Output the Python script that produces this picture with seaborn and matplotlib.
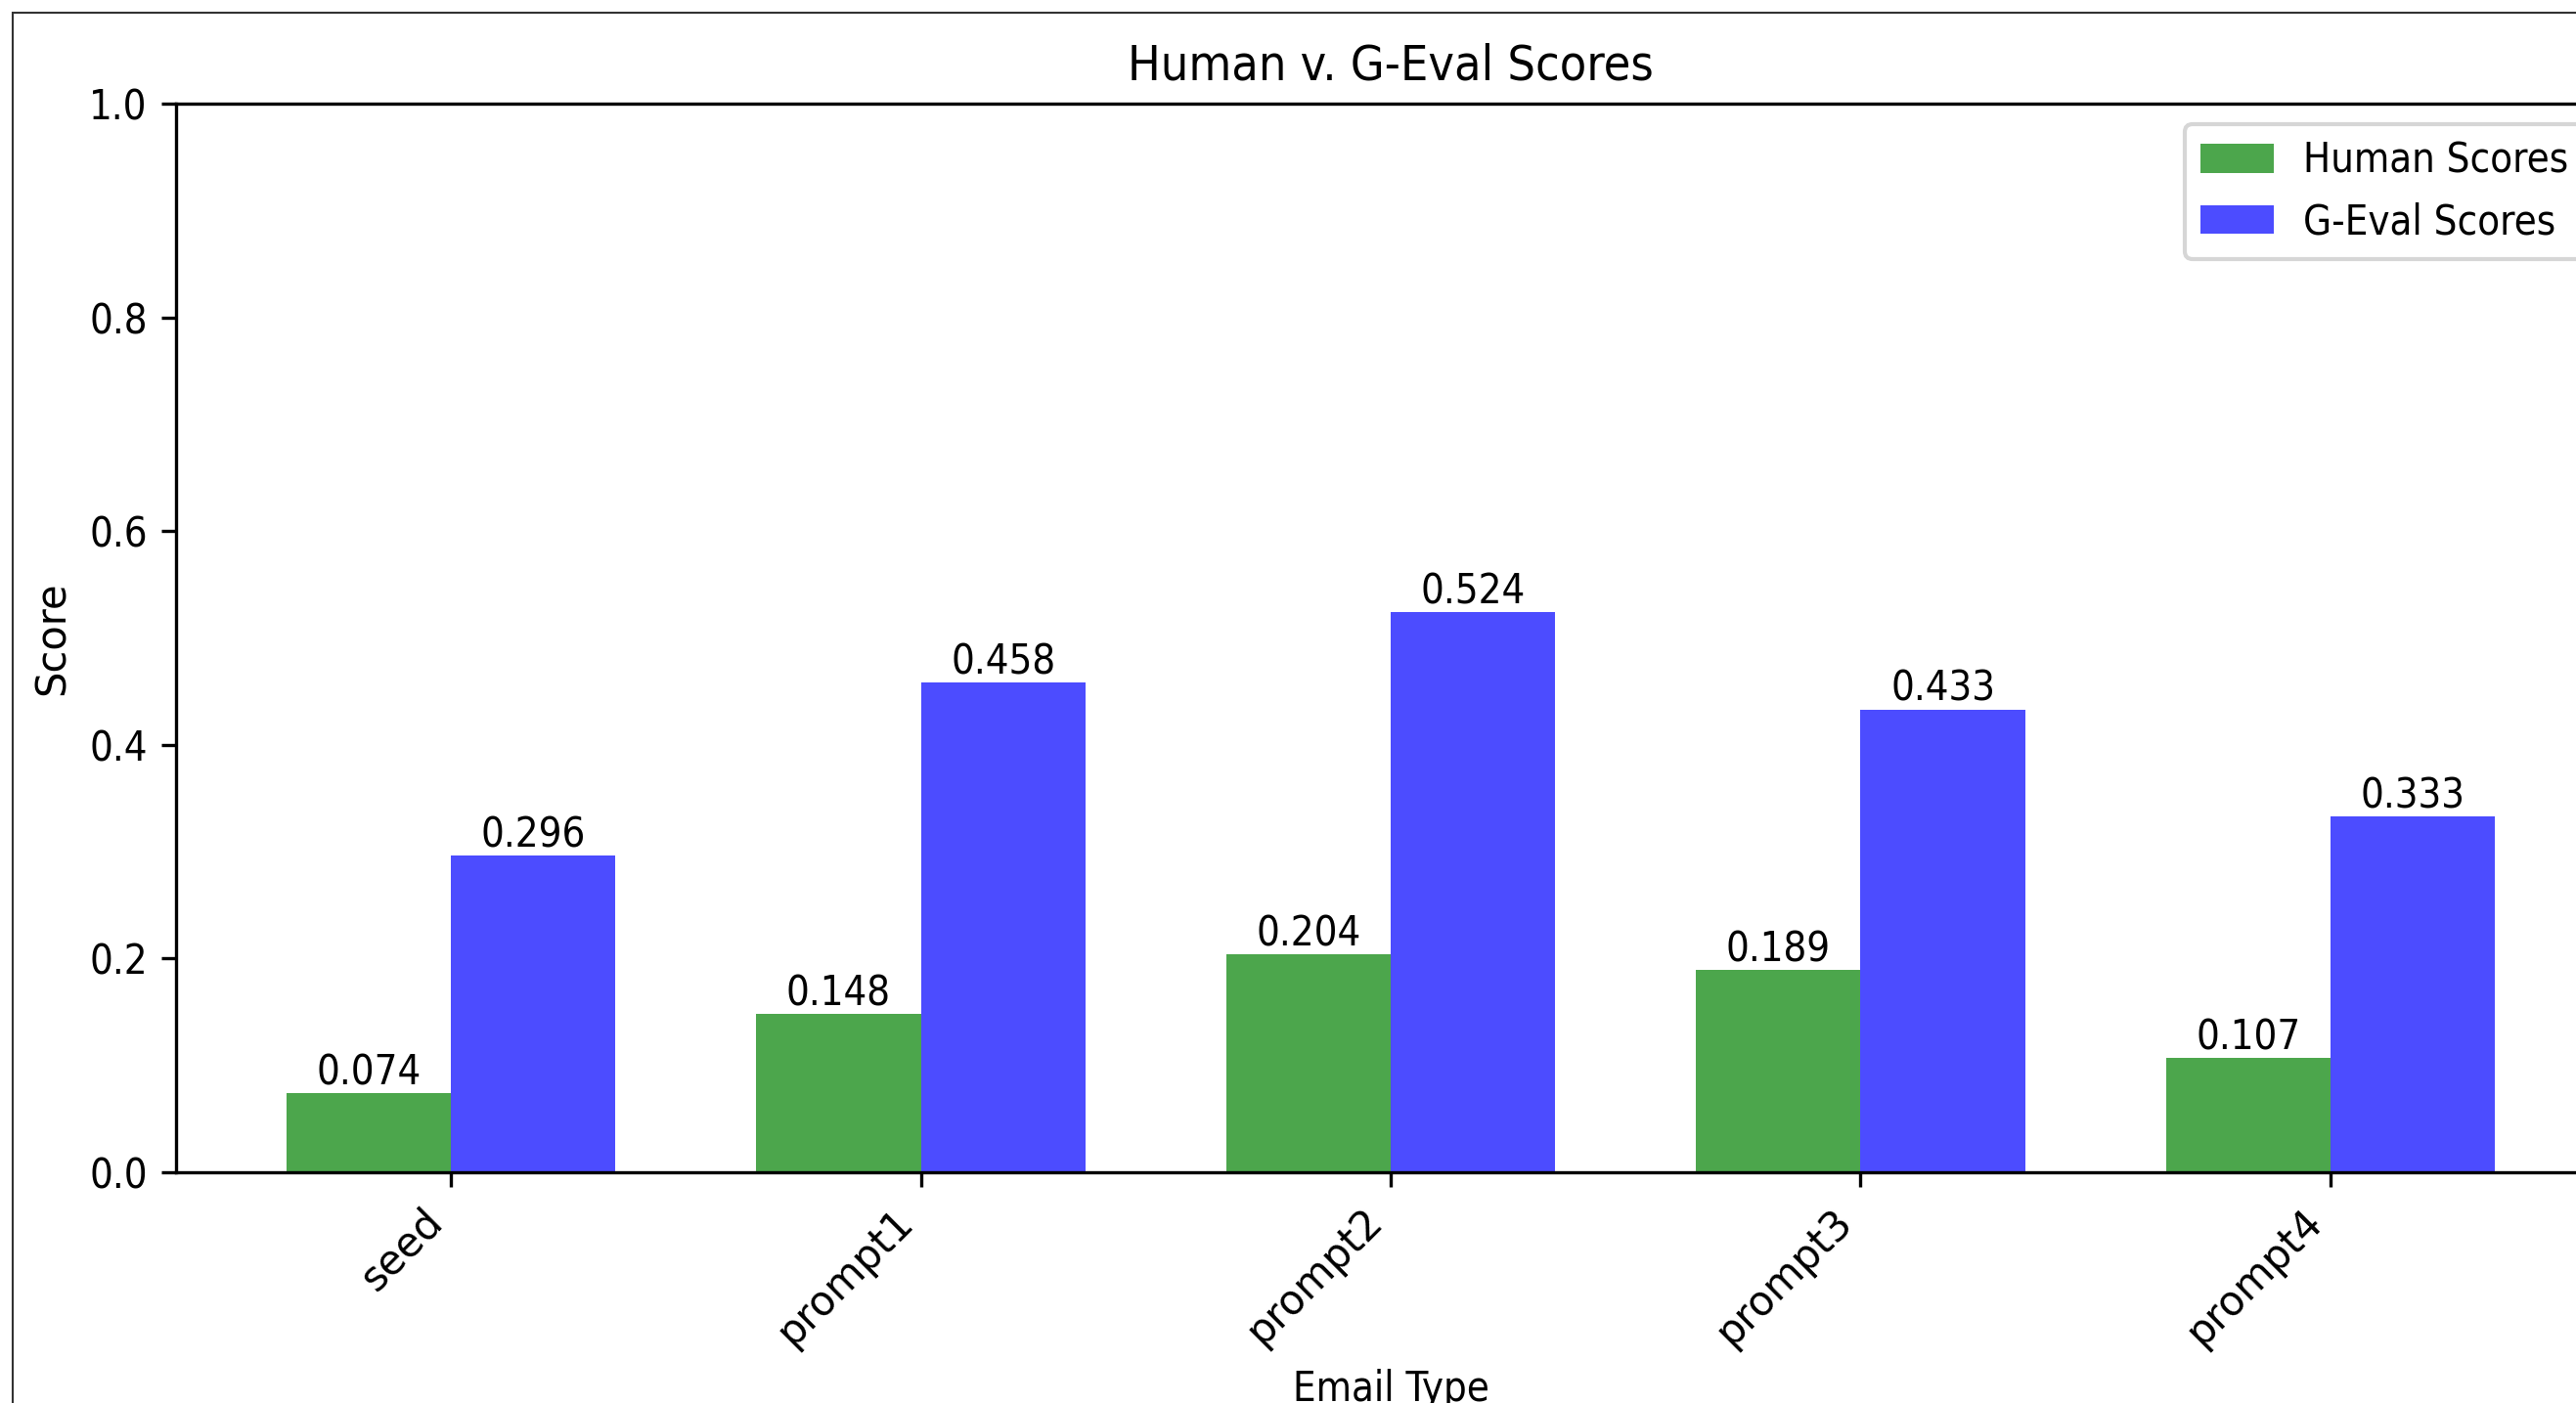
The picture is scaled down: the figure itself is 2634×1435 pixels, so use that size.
import matplotlib
matplotlib.use("Agg")
import matplotlib.pyplot as plt
from matplotlib.patches import Rectangle
import pandas as pd
import seaborn as sns

# Email variants and their average scores
email_types = ["seed", "prompt1", "prompt2", "prompt3", "prompt4"]
human_scores = [0.074, 0.148, 0.204, 0.189, 0.107]
geval_scores = [0.296, 0.458, 0.524, 0.433, 0.333]
series_names = ["Human Scores", "G-Eval Scores"]
series_colors = ["green", "blue"]
y_ticks = [0.0, 0.2, 0.4, 0.6, 0.8, 1.0]

df = pd.DataFrame({
    "Email Type": email_types * 2,
    "Score": human_scores + geval_scores,
    "Source": [series_names[0]] * len(email_types) + [series_names[1]] * len(email_types),
})

plt.rcParams["font.family"] = ["DejaVu Sans"]
plt.rcParams["font.stretch"] = "condensed"
plt.rcParams["font.size"] = 10

W, H, DPI = 2634, 1435, 300
fig = plt.figure(figsize=(W / DPI, H / DPI), dpi=DPI)
ax = fig.add_axes([180 / W, 1 - 1199 / H, (2664 - 180) / W, (1199 - 106) / H])

sns.barplot(
    data=df, x="Email Type", y="Score", hue="Source",
    palette=dict(zip(series_names, series_colors)),
    alpha=0.7, saturation=1, width=0.7, linewidth=0, ax=ax,
)

for container in ax.containers:
    ax.bar_label(container, fmt="%.3f", fontsize=10)

ax.set_xlim(-0.585, 4.585)
ax.set_ylim(0, 1.0)
ax.set_yticks(y_ticks)
ax.set_title("Human v. G-Eval Scores", fontsize=12)
ax.set_xlabel("Email Type", fontsize=10)
ax.set_ylabel("Score", fontsize=10, fontstretch="normal")
plt.setp(ax.get_xticklabels(), rotation=45, ha="right", fontstretch="normal")
sns.move_legend(ax, "upper right", title=None, fontsize=10,
                handlelength=1.8, handletextpad=0.72)

# thin border around the figure canvas
fig.patches.append(Rectangle(
    (13 / W, -0.1), 1.2, (1 - 13 / H) + 0.1,
    transform=fig.transFigure, fill=False, edgecolor="#333333", linewidth=0.5,
))

fig.savefig("out.png", dpi=DPI)
